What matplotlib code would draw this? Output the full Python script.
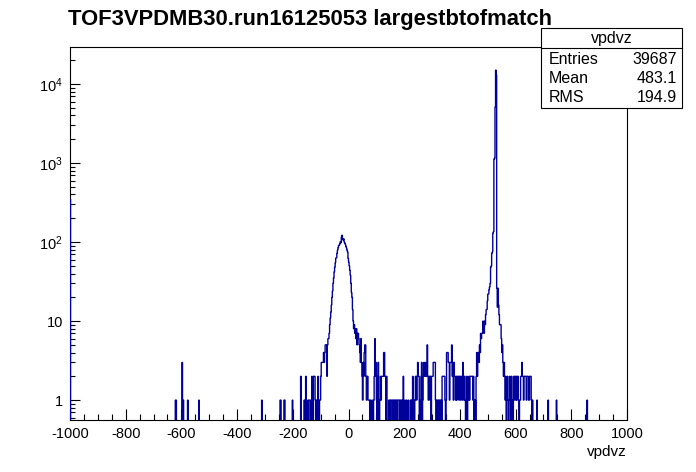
import numpy as np
import matplotlib
matplotlib.use("Agg")
import matplotlib.pyplot as plt
from matplotlib.ticker import FixedLocator, FixedFormatter, MultipleLocator

plt.rcParams['font.family'] = ['Liberation Sans', 'DejaVu Sans']
plt.rcParams['axes.unicode_minus'] = False

# --- histogram settings (1000 bins, width 2) ---
x_min, x_max, n_bins = -1000, 1000, 1000

# --- bin contents (bin centre -> count) ---
edge_x = [-999]
edge_n = [350]

# scattered left tail
left_x = [-621, -619, -597, -593, -577, -537, -311, -245, -243, -231, -229, -201,
          -173, -171, -159, -157, -153, -145, -143, -141, -139, -137, -131, -127,
          -125, -123, -121, -119, -117, -115, -113, -109, -107, -105, -103, -101, -99]
left_n = [1, 1, 3, 1, 1, 1, 1, 1, 1, 1, 1, 1,
          0, 2, 1, 1, 2, 1, 0, 1, 1, 1, 2, 0,
          2, 2, 2, 1, 0, 1, 1, 2, 1, 0, 1, 1, 2]

# peak around zero
peak0_x = list(range(-97, 143, 2))
peak0_n = [3, 3, 3, 3, 4, 3, 4, 5, 5, 5, 2, 5, 6, 6, 7, 9, 11, 13, 16, 20,
           24, 30, 35, 42, 48, 55, 63, 63, 72, 79, 85, 91, 91, 95, 101, 98, 116, 122, 108, 106,
           110, 100, 97, 93, 88, 84, 79, 75, 62, 56, 50, 44, 38, 30, 23, 20, 14, 10, 8, 9,
           7, 8, 6, 8, 5, 7, 7, 6, 5, 4, 3, 6, 3, 2, 1, 3, 2, 4, 5, 5,
           2, 1, 2, 2, 1, 1, 1, 0, 1, 0, 0, 1, 0, 0, 1, 2, 6, 2, 3, 1,
           0, 2, 3, 0, 0, 1, 2, 1, 2, 2, 2, 2, 4, 4, 2, 2, 0, 2, 0, 0]

# flat region between the two peaks
mid_x = list(range(143, 461, 2))
mid_n = [0, 1, 1, 0, 1, 1, 1, 0, 1, 1, 0, 1, 1, 1, 0, 1, 0, 1, 1, 1,
         0, 1, 1, 0, 1, 1, 0, 2, 0, 0, 1, 0, 0, 1, 0, 0, 1, 0, 0, 0,
         1, 0, 1, 0, 2, 0, 1, 0, 1, 2, 2, 1, 2, 3, 2, 2, 0, 1, 0, 2,
         3, 0, 1, 2, 3, 2, 2, 3, 2, 2, 5, 2, 1, 2, 2, 1, 2, 0, 2, 2,
         2, 3, 3, 3, 3, 1, 0, 1, 1, 0, 1, 1, 0, 1, 0, 1, 0, 2, 2, 2,
         2, 2, 1, 0, 1, 4, 4, 4, 3, 3, 1, 3, 3, 3, 5, 2, 3, 1, 3, 2,
         2, 1, 2, 1, 2, 2, 2, 1, 2, 2, 1, 2, 2, 1, 3, 2, 1, 2, 1, 0,
         1, 2, 0, 1, 1, 2, 1, 2, 2, 2, 2, 2, 1, 2, 0, 1, 1, 0, 2]

# main peak
peak1_x = list(range(461, 567, 2))
peak1_n = [4, 2, 4, 4, 3, 5, 4, 7, 6, 7, 7, 10, 8, 7, 10, 9, 12, 14, 14, 18,
           22, 22, 25, 27, 30, 48, 50, 72, 75, 130, 135, 1120, 1150, 5100, 15000, 13000, 26, 15, 26, 16,
           12, 9, 9, 9, 6, 4, 5, 3, 2, 3, 2, 1, 2]

# scattered right tail
right_x = list(range(567, 659, 2)) + [661, 677, 717, 747, 857]
right_n = [0, 1, 2, 1, 0, 1, 2, 1, 0, 2, 1, 1, 0, 2, 1, 2, 2, 1, 2, 1,
           2, 2, 1, 0, 1, 1, 2, 2, 3, 2, 2, 1, 2, 2, 2, 2, 1, 2, 2, 2,
           1, 1, 2, 2, 2, 1] + [1, 1, 1, 1, 1]

# stats box
stats_title = "vpdvz"
stats_rows = [("Entries", "39687"), ("Mean", "483.1"), ("RMS", "194.9")]

# --- fill histogram ---
edges = np.linspace(x_min, x_max, n_bins + 1)
counts = np.zeros(n_bins)
for xs, ns in [(edge_x, edge_n), (left_x, left_n), (peak0_x, peak0_n),
               (mid_x, mid_n), (peak1_x, peak1_n), (right_x, right_n)]:
    idx = np.searchsorted(edges, np.array(xs), side="right") - 1
    counts[idx] = ns

# empty bins drop to the bottom of the frame (as ROOT does on log scale)
draw_counts = np.where(counts > 0, counts, 1e-3)

fig = plt.figure(figsize=(6.96, 4.72), dpi=100)
ax = fig.add_axes([70 / 696, 1 - 420 / 472, 557 / 696, 373 / 472])

ax.stairs(draw_counts, edges, color="#00009a", linewidth=1.0, baseline=1e-3, zorder=3)

ax.set_yscale("log")
ax.set_xlim(x_min, x_max)
ax.set_ylim(0.56, 29400)

ax.xaxis.set_major_locator(MultipleLocator(200))
ax.xaxis.set_minor_locator(MultipleLocator(50))
ax.yaxis.set_major_locator(FixedLocator([1, 10, 100, 1000, 10000]))
ax.yaxis.set_major_formatter(FixedFormatter(["1", "10", r"$\mathregular{10^{2}}$",
                                             r"$\mathregular{10^{3}}$", r"$\mathregular{10^{4}}$"]))

ax.tick_params(axis="both", which="both", direction="in", top=False, right=False,
               labelsize=10.5, width=0.8, colors="black")
ax.tick_params(axis="x", which="major", length=8, pad=5)
ax.tick_params(axis="x", which="minor", length=4)
ax.tick_params(axis="y", which="major", length=7.5, pad=5)
ax.tick_params(axis="y", which="minor", length=3.8)
for s in ax.spines.values():
    s.set_linewidth(0.8)

fig.text(627 / 696, 1 - 452 / 472, "vpdvz", ha="right", va="center", fontsize=11)
fig.text(68 / 696, 1 - 20 / 472, "TOF3VPDMB30.run16125053 largestbtofmatch",
         ha="left", va="center", fontsize=15.8, fontweight="bold")

# stats box
bx0, bx1 = 541 / 696, 682 / 696
by_top, by_mid, by_bot = 1 - 28 / 472, 1 - 48 / 472, 1 - 108 / 472
box = plt.Rectangle((bx0, by_bot), bx1 - bx0, by_top - by_bot, transform=fig.transFigure,
                    facecolor="white", edgecolor="black", linewidth=0.8, zorder=5)
fig.add_artist(box)
fig.add_artist(plt.Line2D([bx0, bx1], [by_mid, by_mid], transform=fig.transFigure,
                          color="black", linewidth=0.8, zorder=6))
fig.text((bx0 + bx1) / 2, 1 - 38 / 472, stats_title, ha="center", va="center",
         fontsize=11.5, zorder=7)
for i, (lab, val) in enumerate(stats_rows):
    yy = 1 - (60 + 18.5 * i) / 472
    fig.text(549 / 696, yy, lab, ha="left", va="center", fontsize=11.5, zorder=7)
    fig.text(677 / 696, yy, val, ha="right", va="center", fontsize=11.5, zorder=7)

fig.savefig("out.png", dpi=100)
